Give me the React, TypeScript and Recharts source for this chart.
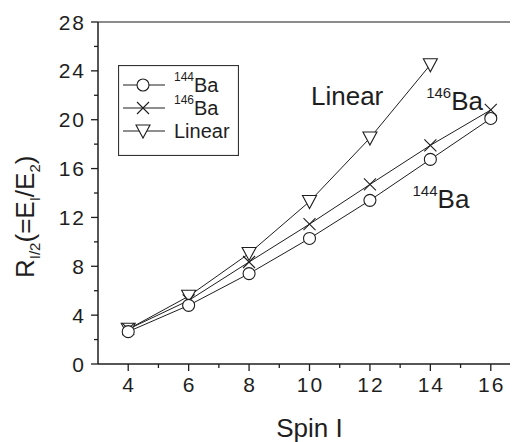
import React from "react";
import { LineChart, Line, XAxis, YAxis, ReferenceLine, ReferenceDot, Legend } from "recharts";

const spins = [4, 6, 8, 10, 12, 14, 16];
const ba144 = [2.65, 4.8, 7.4, 10.28, 13.4, 16.75, 20.1];
const ba146 = [2.85, 5.2, 8.35, 11.45, 14.7, 17.9, 20.8];
const linear = [2.85, 5.55, 9.05, 13.3, 18.5, 24.5, null];

const xTicks = [4, 5, 6, 7, 8, 9, 10, 11, 12, 13, 14, 15, 16];
const yTicks = [0, 2, 4, 6, 8, 10, 12, 14, 16, 18, 20, 22, 24, 26, 28];

const notes = [
  { x: 10.05, y: 21.2, sup: "", main: "Linear" },
  { x: 13.86, y: 20.8, sup: "146", main: "Ba" },
  { x: 13.41, y: 12.74, sup: "144", main: "Ba" },
];

const FONT = "'Liberation Sans', Arial, Helvetica, sans-serif";
const INK = "#1e1e1e";

const data = spins.map((s, i) => ({ spin: s, ba144: ba144[i], ba146: ba146[i], linear: linear[i] }));

function Circ({ cx, cy }: any) {
  return <circle cx={cx} cy={cy} r={6} fill="#fff" stroke={INK} strokeWidth={1.1} />;
}
function Cross({ cx, cy }: any) {
  const s = 6;
  return (
    <g stroke={INK} strokeWidth={1.1}>
      <line x1={cx - s} y1={cy - s} x2={cx + s} y2={cy + s} />
      <line x1={cx - s} y1={cy + s} x2={cx + s} y2={cy - s} />
    </g>
  );
}
function Tri({ cx, cy }: any) {
  return (
    <polygon
      points={`${cx - 7},${cy - 6} ${cx + 7},${cy - 6} ${cx},${cy + 7}`}
      fill="#fff"
      stroke={INK}
      strokeWidth={1.1}
    />
  );
}

const dotOf = (Shape: any, tag: string) => (p: any) => {
  if (p.cy == null || p.value == null) return <g key={`${tag}-${p.index}`} />;
  return (
    <g key={`${tag}-${p.index}`}>
      <Shape cx={p.cx} cy={p.cy} />
    </g>
  );
};

const XTick = ({ x, y, payload }: any) => {
  const major = payload.value % 2 === 0;
  return (
    <g>
      <line x1={x} x2={x} y1={y} y2={y + (major ? 7 : 4)} stroke={INK} strokeWidth={1.3} />
      {major && (
        <text x={x + 1} y={y + 28} textAnchor="middle" fontSize={21} letterSpacing={2} fill={INK} fontFamily={FONT}>
          {payload.value}
        </text>
      )}
    </g>
  );
};

const YTick = ({ x, y, payload }: any) => {
  const major = payload.value % 4 === 0;
  return (
    <g>
      <line x1={x} x2={x - (major ? 7 : 4)} y1={y} y2={y} stroke={INK} strokeWidth={1.3} />
      {major && (
        <text x={x - 12} y={y + 7.5} textAnchor="end" fontSize={21} letterSpacing={2} fill={INK} fontFamily={FONT}>
          {payload.value}
        </text>
      )}
    </g>
  );
};

const YTitle = ({ viewBox }: any) => {
  const tx = viewBox.x + 26;
  const ty = viewBox.y + viewBox.height - 86;
  return (
    <text x={tx} y={ty} transform={`rotate(-90 ${tx} ${ty})`} fontSize={26} fill={INK} fontFamily={FONT}>
      R<tspan fontSize={15} dy={6}>I/2</tspan>
      <tspan dy={-6}>(=E</tspan>
      <tspan fontSize={15} dy={6}>I</tspan>
      <tspan dy={-6}>/E</tspan>
      <tspan fontSize={15} dy={6}>2</tspan>
      <tspan dy={-6}>)</tspan>
    </text>
  );
};

const XTitle = ({ viewBox }: any) => (
  <text
    x={viewBox.x + viewBox.width / 2}
    y={viewBox.y + 73}
    textAnchor="middle"
    fontSize={26}
    fill={INK}
    fontFamily={FONT}
  >
    Spin I
  </text>
);

const Note = (n: any) => (p: any) => (
  <text x={p.cx} y={p.cy} fontSize={26} fill={INK} fontFamily={FONT}>
    {n.sup && <tspan fontSize={15} dy={-12}>{n.sup}</tspan>}
    <tspan dy={n.sup ? 12 : 0}>{n.main}</tspan>
  </text>
);

const legendRows = [
  { sup: "144", main: "Ba", Shape: Circ },
  { sup: "146", main: "Ba", Shape: Cross },
  { sup: "", main: "Linear", Shape: Tri },
];

const LegendBox = () => (
  <svg width={121} height={91} style={{ display: "block" }}>
    <rect x={0.5} y={0.5} width={120} height={90} fill="#fff" stroke="#333" strokeWidth={1.2} />
    {legendRows.map((r, i) => {
      const cy = 20 + i * 23;
      return (
        <g key={i}>
          <line x1={5} x2={47} y1={cy} y2={cy} stroke={INK} strokeWidth={1} />
          <r.Shape cx={25} cy={cy} />
          <text x={56} y={cy + 7} fontSize={20} fill={INK} fontFamily={FONT}>
            {r.sup && <tspan fontSize={12} dy={-11}>{r.sup}</tspan>}
            <tspan dy={r.sup ? 11 : 0}>{r.main}</tspan>
          </text>
        </g>
      );
    })}
  </svg>
);

export default function App() {
  return (
    <div style={{ width: 510, height: 434, overflow: "hidden", fontFamily: FONT }}>
      <LineChart width={522} height={434} data={data} margin={{ top: 14, right: 9, bottom: 38, left: 0 }}>
        <XAxis
          dataKey="spin"
          type="number"
          domain={[3, 17]}
          ticks={xTicks}
          interval={0}
          height={40}
          tickSize={0}
          tickMargin={0}
          tickLine={false}
          tick={<XTick />}
          axisLine={{ stroke: INK, strokeWidth: 1.5 }}
          label={{ content: XTitle }}
        />
        <YAxis
          type="number"
          domain={[0, 28]}
          ticks={yTicks}
          interval={0}
          width={90}
          tickSize={0}
          tickMargin={0}
          tickLine={false}
          tick={<YTick />}
          axisLine={{ stroke: INK, strokeWidth: 1.5 }}
          label={{ content: YTitle }}
        />
        <ReferenceLine y={28} stroke="#666" strokeWidth={1.5} />
        <ReferenceLine x={17} stroke="#666" strokeWidth={1.5} />
        <Line dataKey="linear" stroke={INK} strokeWidth={1} dot={dotOf(Tri, "t")} isAnimationActive={false} />
        <Line dataKey="ba146" stroke={INK} strokeWidth={1} dot={dotOf(Cross, "x")} isAnimationActive={false} />
        <Line dataKey="ba144" stroke={INK} strokeWidth={1} dot={dotOf(Circ, "c")} isAnimationActive={false} />
        {notes.map((n, i) => (
          <ReferenceDot key={i} x={n.x} y={n.y} r={0} shape={Note(n)} />
        ))}
        <Legend
          layout="vertical"
          align="center"
          verticalAlign="middle"
          wrapperStyle={{ left: 110, top: 57, width: 121, height: 91 }}
          content={LegendBox}
        />
      </LineChart>
    </div>
  );
}
